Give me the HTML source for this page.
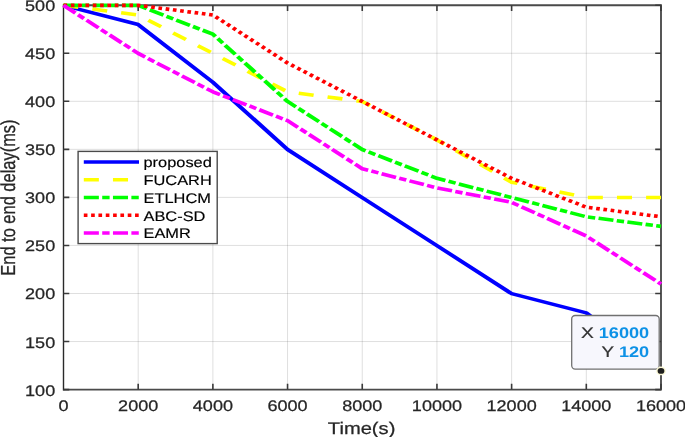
<!DOCTYPE html>
<html><head><meta charset="utf-8"><style>
html,body{margin:0;padding:0;background:#fff;}
body{width:685px;height:437px;overflow:hidden;}
svg{display:block;will-change:transform;}
text{font-family:"Liberation Sans",sans-serif;text-rendering:geometricPrecision;}
.t{font-size:15.3px;fill:#262626;stroke:#262626;stroke-width:0.25px;}
.a{font-size:16.8px;fill:#262626;stroke:#262626;stroke-width:0.25px;}
.l{font-size:13.9px;fill:#000;stroke:#000;stroke-width:0.15px;}
.dx{font-size:15.4px;fill:#333;stroke:#333;stroke-width:0.2px;}
.dv{font-size:15.4px;fill:#0d91e6;font-weight:bold;}
</style></head><body>
<svg width="685" height="437" viewBox="0 0 685 437">
<path d="M138.19 5.2V389.6" stroke="#262626" stroke-opacity="0.15" stroke-width="1" fill="none"/>
<path d="M212.88 5.2V389.6" stroke="#262626" stroke-opacity="0.15" stroke-width="1" fill="none"/>
<path d="M287.56 5.2V389.6" stroke="#262626" stroke-opacity="0.15" stroke-width="1" fill="none"/>
<path d="M362.25 5.2V389.6" stroke="#262626" stroke-opacity="0.15" stroke-width="1" fill="none"/>
<path d="M436.94 5.2V389.6" stroke="#262626" stroke-opacity="0.15" stroke-width="1" fill="none"/>
<path d="M511.62 5.2V389.6" stroke="#262626" stroke-opacity="0.15" stroke-width="1" fill="none"/>
<path d="M586.31 5.2V389.6" stroke="#262626" stroke-opacity="0.15" stroke-width="1" fill="none"/>
<path d="M63.5 341.55H661.0" stroke="#262626" stroke-opacity="0.15" stroke-width="1" fill="none"/>
<path d="M63.5 293.50H661.0" stroke="#262626" stroke-opacity="0.15" stroke-width="1" fill="none"/>
<path d="M63.5 245.45H661.0" stroke="#262626" stroke-opacity="0.15" stroke-width="1" fill="none"/>
<path d="M63.5 197.40H661.0" stroke="#262626" stroke-opacity="0.15" stroke-width="1" fill="none"/>
<path d="M63.5 149.35H661.0" stroke="#262626" stroke-opacity="0.15" stroke-width="1" fill="none"/>
<path d="M63.5 101.30H661.0" stroke="#262626" stroke-opacity="0.15" stroke-width="1" fill="none"/>
<path d="M63.5 53.25H661.0" stroke="#262626" stroke-opacity="0.15" stroke-width="1" fill="none"/>
<path d="M63.5 5.2H661.0V389.6H63.5" fill="none" stroke="#4a4a4a" stroke-width="1.85"/>
<path d="M63.5 4.3V390.5" fill="none" stroke="#2a2a2a" stroke-width="1.4"/>
<path d="M138.19 389.6V383.80M138.19 5.2V11.00M212.88 389.6V383.80M212.88 5.2V11.00M287.56 389.6V383.80M287.56 5.2V11.00M362.25 389.6V383.80M362.25 5.2V11.00M436.94 389.6V383.80M436.94 5.2V11.00M511.62 389.6V383.80M511.62 5.2V11.00M586.31 389.6V383.80M586.31 5.2V11.00M661.00 389.6V383.80M661.00 5.2V11.00M63.5 389.60H69.30M661.0 389.60H655.20M63.5 341.55H69.30M661.0 341.55H655.20M63.5 293.50H69.30M661.0 293.50H655.20M63.5 245.45H69.30M661.0 245.45H655.20M63.5 197.40H69.30M661.0 197.40H655.20M63.5 149.35H69.30M661.0 149.35H655.20M63.5 101.30H69.30M661.0 101.30H655.20M63.5 53.25H69.30M661.0 53.25H655.20M63.5 5.20H69.30M661.0 5.20H655.20" stroke="#3a3a3a" stroke-width="1.6" fill="none"/>
<g transform="translate(0,0.15) scale(1.2,1)">
<polyline points="52.917,5.20 115.156,24.42 177.396,82.08 239.635,149.35 301.875,197.40 364.115,245.45 426.354,293.50 488.594,312.72 507.266,330.02" fill="none" stroke="#0000ff" stroke-width="3.6" stroke-linejoin="round"/>
<polyline points="52.917,5.20 115.156,14.81 177.396,53.25 239.635,91.69 301.875,101.30 364.115,139.74 426.354,182.02 488.594,197.40 550.833,197.40" fill="none" stroke="#ffff00" stroke-width="3.6" stroke-dasharray="12.55 11.75" stroke-linejoin="round"/>
<polyline points="52.917,5.20 115.156,5.20 177.396,34.03 239.635,101.30 301.875,149.35 364.115,178.18 426.354,197.40 488.594,216.62 550.833,226.23" fill="none" stroke="#00ff00" stroke-width="3.6" stroke-dasharray="12.55 2.8 6.15 2.8" stroke-linejoin="round"/>
<polyline points="52.917,5.20 115.156,5.20 177.396,14.81 239.635,62.86 301.875,101.30 364.115,139.74 426.354,178.18 488.594,207.01 550.833,216.62" fill="none" stroke="#ff0000" stroke-width="3.6" stroke-dasharray="3.05 3.05" stroke-linejoin="round"/>
<polyline points="52.917,5.20 115.156,53.25 177.396,91.69 239.635,120.52 301.875,168.57 364.115,187.79 426.354,202.21 488.594,235.84 550.833,283.89" fill="none" stroke="#ff00ff" stroke-width="3.6" stroke-dasharray="12.55 2.8 6.15 2.8" stroke-linejoin="round"/>
</g>
<text transform="translate(63.50,411.30) scale(1.18,1)" text-anchor="middle" class="t">0</text>
<text transform="translate(138.19,411.30) scale(1.18,1)" text-anchor="middle" class="t">2000</text>
<text transform="translate(212.88,411.30) scale(1.18,1)" text-anchor="middle" class="t">4000</text>
<text transform="translate(287.56,411.30) scale(1.18,1)" text-anchor="middle" class="t">6000</text>
<text transform="translate(362.25,411.30) scale(1.18,1)" text-anchor="middle" class="t">8000</text>
<text transform="translate(436.94,411.30) scale(1.18,1)" text-anchor="middle" class="t">10000</text>
<text transform="translate(511.62,411.30) scale(1.18,1)" text-anchor="middle" class="t">12000</text>
<text transform="translate(586.31,411.30) scale(1.18,1)" text-anchor="middle" class="t">14000</text>
<text transform="translate(661.00,411.30) scale(1.18,1)" text-anchor="middle" class="t">16000</text>
<text transform="translate(55.20,395.55) scale(1.18,1)" text-anchor="end" class="t">100</text>
<text transform="translate(55.20,347.50) scale(1.18,1)" text-anchor="end" class="t">150</text>
<text transform="translate(55.20,299.45) scale(1.18,1)" text-anchor="end" class="t">200</text>
<text transform="translate(55.20,251.40) scale(1.18,1)" text-anchor="end" class="t">250</text>
<text transform="translate(55.20,203.35) scale(1.18,1)" text-anchor="end" class="t">300</text>
<text transform="translate(55.20,155.30) scale(1.18,1)" text-anchor="end" class="t">350</text>
<text transform="translate(55.20,107.25) scale(1.18,1)" text-anchor="end" class="t">400</text>
<text transform="translate(55.20,59.20) scale(1.18,1)" text-anchor="end" class="t">450</text>
<text transform="translate(55.20,11.15) scale(1.18,1)" text-anchor="end" class="t">500</text>
<text transform="translate(361.60,433.90) scale(1.2,1)" text-anchor="middle" class="a">Time(s)</text>
<text transform="translate(14.6,197.6) scale(1.23,1) rotate(-90)" text-anchor="middle" class="a" style="font-size:16.45px">End to end delay(ms)</text>
<rect x="78.1" y="151.4" width="139.1" height="92.2" fill="#fff" stroke="#4a4a4a" stroke-width="1.4"/>
<line x1="69.833" y1="162.00" x2="115.833" y2="162.00" fill="none" stroke="#0000ff" stroke-width="3.6" transform="scale(1.2,1)"/>
<text transform="translate(143.50,167.30) scale(1.18,1)" text-anchor="start" class="l">proposed</text>
<line x1="69.833" y1="179.75" x2="115.833" y2="179.75" fill="none" stroke="#ffff00" stroke-width="3.6" stroke-dasharray="12.55 11.75" transform="scale(1.2,1)"/>
<text transform="translate(143.50,185.05) scale(1.18,1)" text-anchor="start" class="l">FUCARH</text>
<line x1="69.833" y1="197.50" x2="115.833" y2="197.50" fill="none" stroke="#00ff00" stroke-width="3.6" stroke-dasharray="12.55 2.8 6.15 2.8" transform="scale(1.2,1)"/>
<text transform="translate(143.50,202.80) scale(1.18,1)" text-anchor="start" class="l">ETLHCM</text>
<line x1="69.833" y1="215.25" x2="115.833" y2="215.25" fill="none" stroke="#ff0000" stroke-width="3.6" stroke-dasharray="3.05 3.05" transform="scale(1.2,1)"/>
<text transform="translate(143.50,220.55) scale(1.18,1)" text-anchor="start" class="l">ABC-SD</text>
<line x1="69.833" y1="233.00" x2="115.833" y2="233.00" fill="none" stroke="#ff00ff" stroke-width="3.6" stroke-dasharray="12.55 2.8 6.15 2.8" transform="scale(1.2,1)"/>
<text transform="translate(143.50,238.30) scale(1.18,1)" text-anchor="start" class="l">EAMR</text>
<rect x="571.7" y="315.5" width="87.5" height="53.6" rx="3.5" fill="#f7f7fd" stroke="#707070" stroke-width="1.3"/>
<text transform="translate(581.00,338.20) scale(1.25,1)" text-anchor="start" class="dx">X</text>
<text transform="translate(649.20,338.20) scale(1.18,1)" text-anchor="end" class="dv">16000</text>
<text transform="translate(601.40,357.40) scale(1.22,1)" text-anchor="start" class="dx">Y</text>
<text transform="translate(649.20,357.40) scale(1.18,1)" text-anchor="end" class="dv">120</text>
<ellipse cx="661.00" cy="370.88" rx="4.9" ry="4.3" fill="#fcf9d8"/>
<ellipse cx="661.00" cy="370.88" rx="3.4" ry="2.9" fill="#1e1e1e"/>
</svg>
</body></html>
